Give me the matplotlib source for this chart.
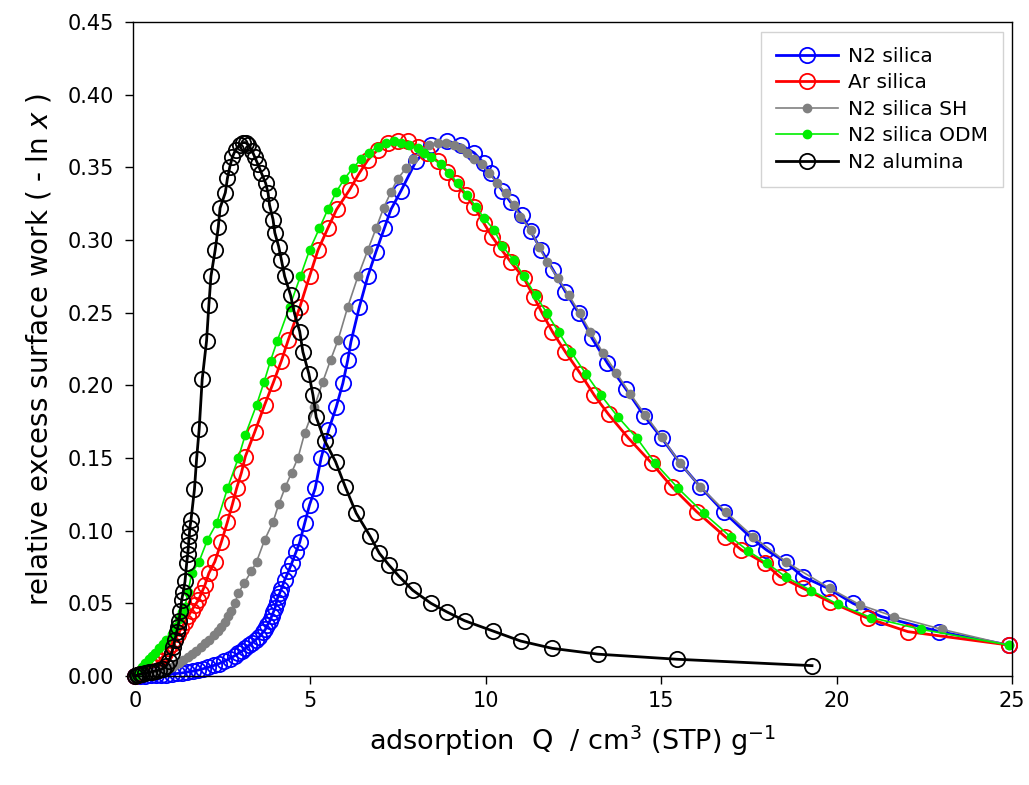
import matplotlib
matplotlib.use('Agg')
import matplotlib.pyplot as plt

plt.rcParams['font.family'] = ['DejaVu Sans']
plt.rcParams['mathtext.fontset'] = 'dejavusans'

# N2 silica
q_n2 = [0, 0.15, 0.3, 0.45, 0.6, 0.75, 0.9, 1.05, 1.2, 1.35, 1.5, 1.65, 1.8, 1.95, 2.1, 2.25,
        2.4, 2.55, 2.7, 2.85, 2.95, 3.05, 3.15, 3.25, 3.35, 3.45, 3.55, 3.65, 3.72, 3.78, 3.85,
        3.9, 3.95, 4.0, 4.04, 4.08, 4.13, 4.18, 4.27, 4.38, 4.48, 4.59, 4.70, 4.84, 4.98, 5.14,
        5.31, 5.52, 5.74, 5.93, 6.07, 6.16, 6.40, 6.64, 6.875, 7.11, 7.30, 7.59, 8.01, 8.44,
        8.91, 9.29, 9.67, 9.95, 10.14, 10.47, 10.71, 11.04, 11.28, 11.58, 11.92, 12.27, 12.65,
        13.03, 13.47, 14.0, 14.52, 15.02, 15.54, 16.11, 16.79, 17.58, 18.0, 18.55, 19.04,
        19.75, 20.46, 21.27, 22.93, 24.9]
w_n2 = [0, 0.0001, 0.0003, 0.0004, 0.0006, 0.0008, 0.001, 0.0013, 0.0017, 0.0021, 0.0027,
        0.0033, 0.004, 0.005, 0.006, 0.0072, 0.0085, 0.010, 0.012, 0.014, 0.0156, 0.017, 0.019,
        0.021, 0.023, 0.025, 0.027, 0.030, 0.032, 0.035, 0.038, 0.041, 0.044, 0.047, 0.051,
        0.0546, 0.057, 0.060, 0.066, 0.072, 0.078, 0.085, 0.092, 0.105, 0.1177, 0.129, 0.150,
        0.169, 0.185, 0.2015, 0.2175, 0.230, 0.254, 0.275, 0.292, 0.308, 0.321, 0.334, 0.354,
        0.3655, 0.368, 0.3655, 0.360, 0.3528, 0.346, 0.334, 0.326, 0.317, 0.306, 0.2932,
        0.2794, 0.2645, 0.2496, 0.2324, 0.2152, 0.1973, 0.1789, 0.1636, 0.1464, 0.1303,
        0.1127, 0.0948, 0.0867, 0.0783, 0.0683, 0.0604, 0.0501, 0.0409, 0.0305, 0.0213]

# Ar silica
q_ar = [0, 0.1, 0.2, 0.3, 0.39, 0.5, 0.6, 0.7, 0.8, 0.86, 0.95, 1.05, 1.15, 1.24, 1.33, 1.42,
        1.52, 1.62, 1.72, 1.81, 1.9, 2.0, 2.11, 2.28, 2.47, 2.64, 2.78, 2.90, 3.04, 3.15, 3.42,
        3.70, 3.94, 4.18, 4.37, 4.70, 4.98, 5.22, 5.50, 5.75, 6.12, 6.40, 6.64, 6.92, 7.21,
        7.49, 7.78, 8.06, 8.34, 8.63, 8.91, 9.15, 9.43, 9.67, 9.95, 10.19, 10.43, 10.71, 11.09,
        11.37, 11.61, 11.9, 12.27, 12.7, 13.1, 13.5, 14.07, 14.73, 15.30, 16.01, 16.82, 17.29,
        17.95, 18.38, 19.04, 19.8, 20.89, 22.03, 24.9]
w_ar = [0, 0.0008, 0.0017, 0.0027, 0.004, 0.006, 0.008, 0.0105, 0.0135, 0.0156, 0.019, 0.022,
        0.0255, 0.029, 0.033, 0.037, 0.041, 0.045, 0.049, 0.052, 0.057, 0.0626, 0.0707, 0.0786,
        0.0924, 0.106, 0.118, 0.129, 0.140, 0.151, 0.168, 0.1865, 0.2014, 0.217, 0.231, 0.2536,
        0.275, 0.293, 0.308, 0.321, 0.3345, 0.346, 0.355, 0.362, 0.3667, 0.368, 0.3678, 0.3643,
        0.360, 0.354, 0.347, 0.339, 0.331, 0.323, 0.3115, 0.302, 0.294, 0.285, 0.2737, 0.261,
        0.2496, 0.237, 0.223, 0.208, 0.193, 0.180, 0.1636, 0.1464, 0.1303, 0.1131, 0.0959,
        0.0867, 0.0775, 0.0683, 0.0604, 0.0511, 0.0397, 0.0305, 0.0213]

# N2 silica SH
q_sh = [0, 0.1, 0.2, 0.3, 0.4, 0.5, 0.6, 0.73, 0.86, 0.95, 1.05, 1.15, 1.25, 1.38, 1.52, 1.63,
        1.75, 1.88, 2.0, 2.12, 2.25, 2.36, 2.47, 2.56, 2.65, 2.75, 2.85, 2.95, 3.12, 3.32, 3.47,
        3.70, 3.94, 4.10, 4.29, 4.47, 4.65, 4.84, 5.12, 5.36, 5.58, 5.79, 6.07, 6.36, 6.64,
        6.875, 7.09, 7.30, 7.49, 7.73, 7.92, 8.15, 8.39, 8.63, 8.86, 9.10, 9.29, 9.48, 9.67,
        9.9, 10.09, 10.33, 10.57, 10.80, 10.99, 11.28, 11.51, 11.75, 12.05, 12.37, 12.68, 12.98,
        13.34, 13.72, 14.12, 14.55, 15.02, 15.54, 16.11, 16.85, 17.62, 18.57, 19.8, 20.67,
        21.65, 23.0, 24.9]
w_sh = [0, 0.0004, 0.0008, 0.0012, 0.0016, 0.002, 0.0025, 0.0032, 0.004, 0.005, 0.0065, 0.0078,
        0.009, 0.011, 0.0133, 0.0153, 0.0175, 0.020, 0.0225, 0.025, 0.028, 0.031, 0.034, 0.037,
        0.041, 0.045, 0.050, 0.057, 0.064, 0.072, 0.0786, 0.0936, 0.106, 0.118, 0.130, 0.140,
        0.150, 0.167, 0.1853, 0.2026, 0.2175, 0.231, 0.254, 0.275, 0.293, 0.308, 0.322, 0.333,
        0.342, 0.3494, 0.3556, 0.361, 0.3655, 0.3667, 0.3667, 0.3655, 0.363, 0.360, 0.356,
        0.352, 0.346, 0.339, 0.332, 0.324, 0.316, 0.307, 0.2955, 0.285, 0.274, 0.262, 0.2496,
        0.237, 0.2225, 0.2088, 0.194, 0.1796, 0.1643, 0.1464, 0.1303, 0.1127, 0.0959, 0.0783,
        0.0604, 0.0489, 0.0408, 0.0321, 0.0213]

# N2 silica ODM
q_odm = [0, 0.1, 0.2, 0.3, 0.4, 0.5, 0.58, 0.7, 0.8, 0.9, 1.05, 1.15, 1.25, 1.35, 1.43, 1.52,
         1.62, 1.83, 2.07, 2.33, 2.64, 2.95, 3.15, 3.47, 3.68, 3.87, 4.06, 4.41, 4.72, 4.98,
         5.26, 5.50, 5.74, 5.97, 6.21, 6.45, 6.68, 6.92, 7.16, 7.4, 7.59, 7.82, 8.06, 8.25,
         8.44, 8.72, 8.96, 9.20, 9.48, 9.72, 9.95, 10.24, 10.47, 10.80, 11.09, 11.42, 11.75,
         12.08, 12.44, 12.86, 13.29, 13.76, 14.31, 14.83, 15.49, 16.22, 17.0, 17.48, 18.02,
         18.57, 19.28, 20.04, 20.98, 22.4, 24.9]
w_odm = [0, 0.0035, 0.0064, 0.009, 0.0115, 0.014, 0.0156, 0.019, 0.022, 0.025, 0.029, 0.034,
         0.039, 0.044, 0.0477, 0.058, 0.0707, 0.0786, 0.0936, 0.105, 0.129, 0.150, 0.166,
         0.1865, 0.202, 0.217, 0.2306, 0.254, 0.275, 0.293, 0.308, 0.321, 0.333, 0.342, 0.3494,
         0.3556, 0.360, 0.3643, 0.367, 0.368, 0.367, 0.3655, 0.363, 0.360, 0.357, 0.352, 0.346,
         0.339, 0.331, 0.323, 0.315, 0.307, 0.296, 0.286, 0.275, 0.262, 0.2495, 0.2365, 0.2227,
         0.2077, 0.193, 0.1785, 0.1636, 0.1464, 0.129, 0.1118, 0.0953, 0.086, 0.0775, 0.0679,
         0.0587, 0.0493, 0.0402, 0.0321, 0.0213]

# N2 alumina
q_al = [0, 0.05, 0.1, 0.15, 0.2, 0.3, 0.4, 0.5, 0.6, 0.7, 0.8, 0.9, 0.97, 1.05, 1.10, 1.145,
        1.19, 1.23, 1.26, 1.30, 1.335, 1.38, 1.43, 1.48, 1.51, 1.53, 1.55, 1.57, 1.60, 1.70,
        1.76, 1.835, 1.92, 2.045, 2.11, 2.17, 2.29, 2.38, 2.43, 2.58, 2.64, 2.71, 2.78, 2.87,
        2.99, 3.08, 3.16, 3.23, 3.34, 3.42, 3.51, 3.61, 3.73, 3.80, 3.84, 3.94, 3.99, 4.10,
        4.18, 4.27, 4.44, 4.55, 4.70, 4.79, 4.96, 5.08, 5.17, 5.41, 5.72, 6.0, 6.31, 6.71, 6.97,
        7.24, 7.54, 7.92, 8.44, 8.9, 9.4, 10.2, 11.0, 11.9, 13.2, 15.45, 19.3]
w_al = [0, 0.0004, 0.0008, 0.0012, 0.0016, 0.002, 0.0025, 0.003, 0.0035, 0.004, 0.005, 0.007,
        0.010, 0.016, 0.020, 0.025, 0.030, 0.034, 0.038, 0.045, 0.052, 0.058, 0.065, 0.078,
        0.084, 0.090, 0.096, 0.102, 0.107, 0.1285, 0.149, 0.170, 0.204, 0.2306, 0.255, 0.275,
        0.293, 0.309, 0.322, 0.3326, 0.3425, 0.3505, 0.357, 0.362, 0.3655, 0.367, 0.367, 0.3655,
        0.3615, 0.357, 0.352, 0.346, 0.339, 0.332, 0.324, 0.314, 0.305, 0.2955, 0.286, 0.275,
        0.262, 0.2495, 0.237, 0.223, 0.208, 0.193, 0.178, 0.162, 0.1475, 0.130, 0.112, 0.096,
        0.0844, 0.0764, 0.0683, 0.059, 0.050, 0.044, 0.038, 0.031, 0.024, 0.019, 0.015, 0.0115,
        0.0071]

fig = plt.figure(figsize=(10.29, 7.85), dpi=100)
ax = fig.add_axes([0.1293, 0.1389, 0.8542, 0.8331])

ax.plot(q_n2, w_n2, '-o', color='blue', lw=2.0, ms=11, mfc='none', mew=1.3,
        clip_on=False, label='N2 silica')
ax.plot(q_ar, w_ar, '-o', color='red', lw=2.0, ms=11, mfc='none', mew=1.3,
        clip_on=False, label='Ar silica')
ax.plot(q_sh, w_sh, '-o', color='gray', lw=1.2, ms=6, clip_on=False, label='N2 silica SH')
ax.plot(q_odm, w_odm, '-o', color='#00ee00', lw=1.2, ms=6, clip_on=False, label='N2 silica ODM')
ax.plot(q_al, w_al, '-o', color='black', lw=2.0, ms=11, mfc='none', mew=1.3,
        clip_on=False, label='N2 alumina')

ax.set_xlim(-0.05, 25.0)
ax.set_ylim(0, 0.45)
ax.set_xticks([0, 5, 10, 15, 20, 25])
ax.set_yticks([0, 0.05, 0.10, 0.15, 0.20, 0.25, 0.30, 0.35, 0.40, 0.45])
ax.set_yticklabels(['%.2f' % v for v in ax.get_yticks()])
ax.tick_params(direction='out', length=6, width=1, labelsize=15, top=False, right=False)
ax.tick_params(axis='y', pad=8)
ax.tick_params(axis='x', pad=5)
for s in ax.spines.values():
    s.set_linewidth(1.0)

ax.set_xlabel('adsorption  Q  / cm$^3$ (STP) g$^{-1}$', fontsize=19.5, labelpad=9)
ax.set_ylabel('relative excess surface work ( - ln $x$ )', fontsize=20, labelpad=10)

leg = ax.legend(loc='upper right', bbox_to_anchor=(0.99, 0.985), borderaxespad=0,
                fontsize=14.5, fancybox=False, handlelength=3.1, borderpad=0.75,
                labelspacing=0.37, handletextpad=0.5)
leg.get_frame().set_edgecolor('#c8c8c8')
leg.get_frame().set_linewidth(1.0)

plt.savefig('out.png', dpi=100)
